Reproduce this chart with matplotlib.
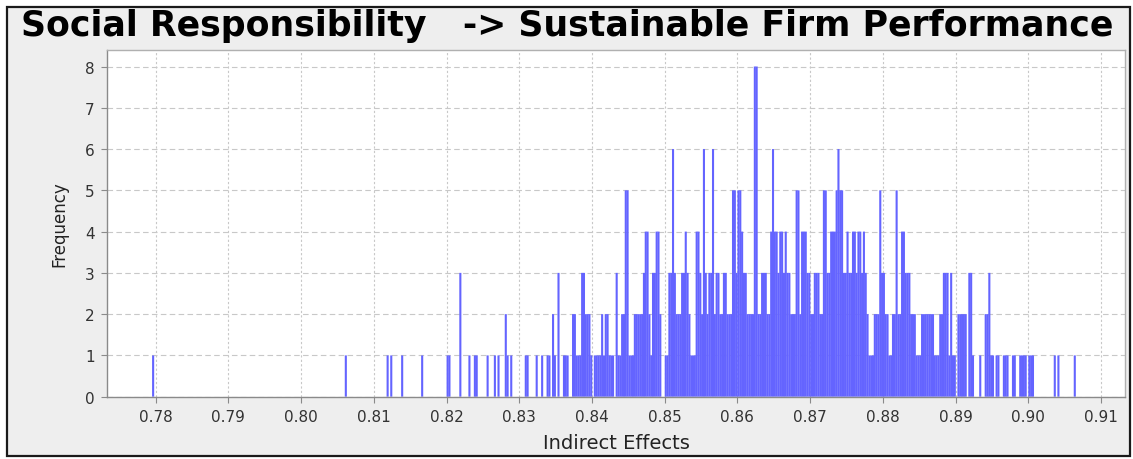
import matplotlib
matplotlib.use("Agg")
import matplotlib.pyplot as plt
import numpy as np
from matplotlib.patches import Rectangle

# ---------------- data ----------------
title = "Social Responsibility   -> Sustainable Firm Performance"
x_label = "Indirect Effects"
y_label = "Frequency"

x_tick_values = [0.78, 0.79, 0.80, 0.81, 0.82, 0.83, 0.84, 0.85, 0.86, 0.87, 0.88, 0.89, 0.90, 0.91]
x_tick_labels = ["0.78", "0.79", "0.80", "0.81", "0.82", "0.83", "0.84", "0.85",
                 "0.86", "0.87", "0.88", "0.89", "0.90", "0.91"]
y_tick_values = [0, 1, 2, 3, 4, 5, 6, 7, 8]

bin_width = 0.00025

# isolated low values (bin left edge) and their frequencies
outlier_x = [0.7795, 0.806, 0.81175, 0.81225, 0.81375, 0.8165]
outlier_n = [1, 1, 1, 1, 1, 1]

# frequencies per bin, bins of width 0.00025 starting at 0.82
core_start = 0.82
seg_082 = [1, 1, 0, 0, 0, 0, 0, 3, 0, 0, 0, 0, 1, 0, 0, 1, 1, 0, 0, 0,
           0, 0, 1, 0, 0, 0, 1, 0, 1, 0, 0, 0, 2, 1, 0, 1, 0, 0, 0, 0]
seg_083 = [0, 0, 0, 1, 1, 0, 0, 0, 0, 1, 0, 0, 1, 0, 0, 1, 1, 0, 2, 1,
           0, 3, 0, 0, 1, 1, 1, 0, 0, 2, 2, 1, 1, 1, 3, 3, 2, 2, 2, 1]
seg_084 = [0, 1, 1, 1, 1, 2, 1, 2, 2, 1, 1, 1, 0, 3, 1, 1, 2, 2, 5, 5,
           1, 1, 1, 2, 2, 2, 2, 2, 3, 4, 4, 2, 1, 3, 3, 4, 4, 2, 0, 0]
seg_085 = [1, 1, 3, 3, 6, 3, 2, 2, 2, 3, 3, 4, 3, 2, 1, 1, 1, 4, 4, 3,
           2, 6, 3, 2, 3, 3, 6, 2, 3, 3, 2, 2, 3, 3, 2, 2, 2, 5, 5, 3]
seg_086 = [5, 5, 4, 3, 3, 2, 2, 2, 2, 8, 8, 2, 2, 3, 3, 3, 2, 2, 4, 6,
           4, 4, 3, 4, 4, 3, 4, 3, 3, 2, 2, 2, 5, 5, 2, 4, 4, 4, 3, 3]
seg_087 = [2, 2, 3, 3, 3, 2, 2, 5, 5, 3, 3, 4, 4, 4, 5, 6, 5, 5, 3, 3,
           4, 3, 3, 4, 4, 3, 4, 4, 3, 4, 3, 2, 1, 1, 1, 2, 2, 2, 5, 3]
seg_088 = [3, 2, 2, 1, 1, 2, 2, 5, 2, 2, 4, 4, 3, 3, 3, 2, 2, 2, 1, 1,
           1, 2, 2, 2, 2, 2, 2, 2, 1, 1, 1, 2, 2, 3, 3, 3, 1, 3, 1, 1]
seg_089 = [0, 2, 2, 2, 2, 2, 0, 3, 3, 1, 0, 0, 0, 1, 0, 0, 2, 2, 3, 1,
           1, 0, 1, 1, 0, 0, 1, 1, 1, 0, 0, 1, 1, 0, 0, 1, 1, 1, 1, 0]
seg_090 = [1, 1, 1, 0, 0, 0, 0, 0, 0, 0, 0, 0, 0, 0, 1, 0, 1, 0, 0, 0,
           0, 0, 0, 0, 0, 1]

# ---------------- figure ----------------
W, H, DPI = 1133, 460, 100
fig = plt.figure(figsize=(W / DPI, H / DPI), dpi=DPI, facecolor="white")

panel = Rectangle((7 / W, 1 - 457 / H), (1130 - 7) / W, (457 - 8) / H,
                  transform=fig.transFigure, facecolor="#EEEEEE",
                  edgecolor="#1a1a1a", linewidth=1.6, zorder=-10)
fig.patches.append(panel)

ax = fig.add_axes([107 / W, 1 - 397.7 / H, (1125 - 107) / W, (397.7 - 51) / H])
ax.set_facecolor("white")

bar_color = "#6464FF"
bar_frac = 1.15
core = np.concatenate([seg_082, seg_083, seg_084, seg_085, seg_086,
                       seg_087, seg_088, seg_089, seg_090])
core_x = core_start + np.arange(len(core)) * bin_width
bars1 = ax.bar(core_x, core, width=bin_width * bar_frac, align="edge",
               color=bar_color, linewidth=0)
bars2 = ax.bar(outlier_x, outlier_n, width=bin_width * bar_frac, align="edge",
               color=bar_color, linewidth=0)
for b in list(bars1) + list(bars2):
    b.set_snap(False)

ax.set_xlim(0.7733, 0.9133)
ax.set_ylim(0, 8.4)
ax.set_xticks(x_tick_values)
ax.set_xticklabels(x_tick_labels)
ax.set_yticks(y_tick_values)
ax.set_yticklabels([str(v) for v in y_tick_values])

ax.set_axisbelow(True)
ax.xaxis.grid(True, color="#C8C8C8", linestyle=(0, (2, 2)), linewidth=0.8)
ax.yaxis.grid(True, color="#C8C8C8", linestyle=(0, (5, 3)), linewidth=0.8)

for side in ["left", "bottom"]:
    ax.spines[side].set_color("#8a8a8a")
    ax.spines[side].set_linewidth(1.0)
for side in ["top", "right"]:
    ax.spines[side].set_color("#b0b0b0")
    ax.spines[side].set_linewidth(1.0)

ax.tick_params(axis="both", direction="out", length=4, width=0.8, color="#8a8a8a",
               labelsize=11, labelcolor="#333333", pad=5)

ax.set_xlabel(x_label, fontsize=14, color="#222222", labelpad=6)
ax.set_ylabel(y_label, fontsize=12, color="#222222", labelpad=12)

fig.text(0.5005, 1 - 36 / H, title, fontsize=25, fontweight="bold",
         ha="center", va="baseline", color="black")

fig.savefig("out.png", dpi=DPI, facecolor=fig.get_facecolor())
